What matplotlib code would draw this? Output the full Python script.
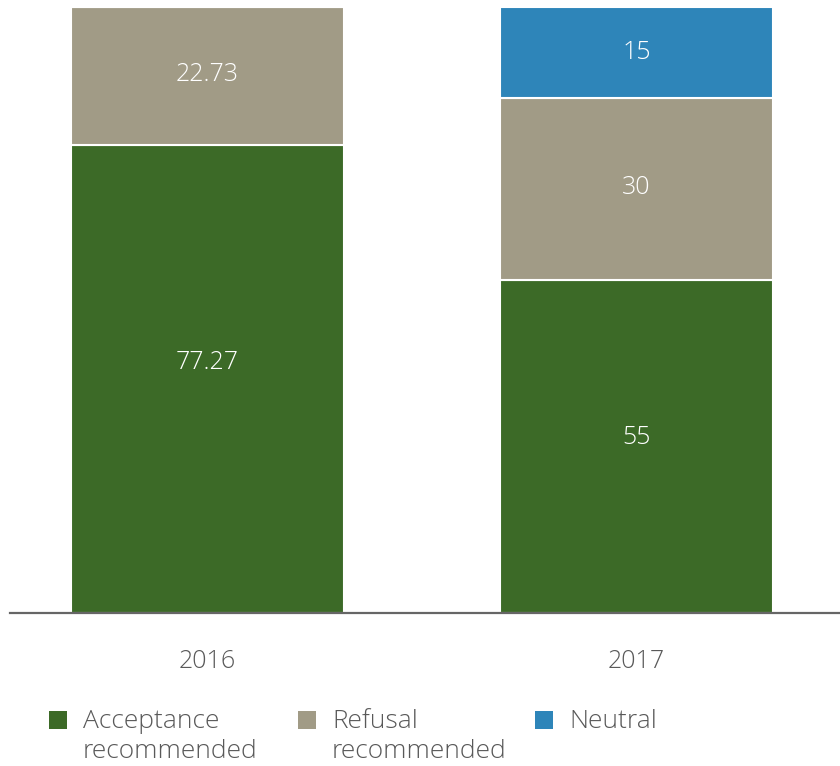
import matplotlib
matplotlib.use("Agg")
import matplotlib.pyplot as plt
from matplotlib.patches import Rectangle
import numpy as np

years = ["2016", "2017"]
series_names = ["Acceptance\nrecommended", "Refusal\nrecommended", "Neutral"]
acceptance = [77.27, 55]
refusal = [22.73, 30]
neutral = [0, 15]
value_labels = [["77.27", "55"], ["22.73", "30"], ["", "15"]]

colors = ["#3c6a27", "#a19b86", "#2e85b9"]
text_color = "#595959"

plt.rcParams["font.family"] = ["Open Sans", "DejaVu Sans"]

W, H = 840, 766
fig = plt.figure(figsize=(W / 100, H / 100), dpi=100)
ax_bottom = 613
ax_top = 7
ax = fig.add_axes([0, (H - ax_bottom) / H, 1, (ax_bottom - ax_top) / H])

spacing = 429.0
c0 = 207.5
x = np.arange(len(years))
bar_w = 273 / spacing
ax.set_xlim(-c0 / spacing, (W - c0) / spacing)
ax.set_ylim(0, 100)

stack = [acceptance, refusal, neutral]
bottom = np.zeros(len(years))
nudges = [[-16, -9], [-1, -1], [0, 0]]  # label offsets in pixels
for i, vals in enumerate(stack):
    vals = np.array(vals, dtype=float)
    ax.bar(x, vals, bar_w, bottom=bottom, color=colors[i],
           edgecolor="white", linewidth=1.5, zorder=2)
    for j, v in enumerate(vals):
        if v > 0:
            ax.annotate(value_labels[i][j], (x[j], bottom[j] + v / 2),
                        xytext=(0, -nudges[i][j] * 0.72), textcoords="offset points",
                        ha="center", va="center", color="white",
                        fontsize=18, fontweight="light", zorder=3)
    bottom += vals

ax.axhline(0, xmin=10 / W, xmax=1, color="#666666", linewidth=1.6, zorder=4,
           clip_on=False)
for s in ax.spines.values():
    s.set_visible(False)
ax.set_yticks([])
ax.set_xticks(x)
ax.set_xticklabels(years, fontsize=18, color=text_color, fontweight="light")
ax.tick_params(axis="x", length=0, pad=26)

# legend
leg_x = [49, 298, 535]
for lx, name, col in zip(leg_x, series_names, colors):
    sq = 18
    fig.add_artist(Rectangle((lx / W, (H - 729) / H), sq / W, sq / H,
                             transform=fig.transFigure, color=col, lw=0))
    fig.text((lx + 34) / W, (H - 709) / H, name, ha="left", va="top",
             fontsize=19, color=text_color, fontweight="light",
             linespacing=1.28)

fig.savefig("out.png", dpi=100)
